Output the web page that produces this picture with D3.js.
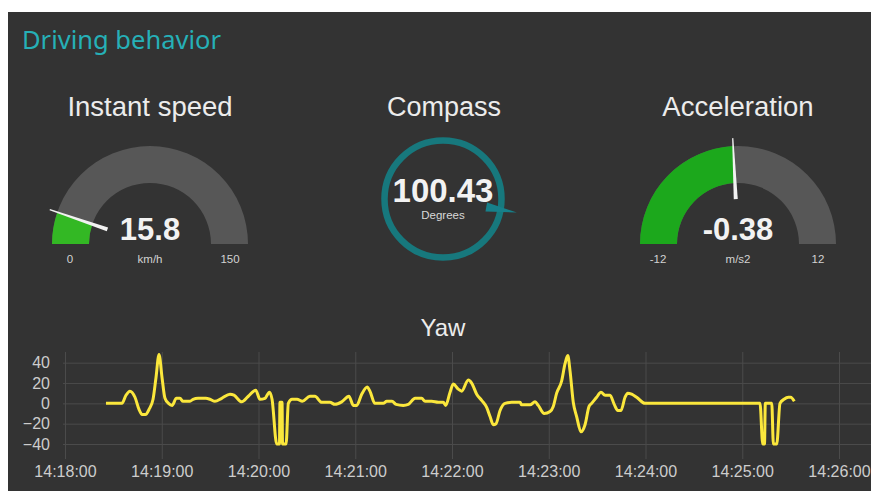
<!DOCTYPE html>
<html>
<head>
<meta charset="utf-8">
<script src="https://cdn.jsdelivr.net/npm/d3@7"></script>
<style>
  body { margin: 0; background: #fff; }
  text { font-family: "Liberation Sans", Arial, sans-serif; }
</style>
</head>
<body>
<script>
var width = 871, height = 491;

// gauge readings
var speedValue = 15.8, speedRange = [0, 150], speedUnit = "km/h";
var accelValue = -0.38, accelRange = [-12, 12], accelUnit = "m/s2";
var compassValue = 100.43, compassUnit = "Degrees";

// yaw samples, seconds after 14:18:00
var yawSeconds = [25.4, 35.3, 37.8, 40.3, 43.4, 45.9, 47.8, 49.9, 52.1, 54.6, 56.4, 58.3, 60.2, 62.0,
  64.2, 66.4, 69.1, 71.3, 73.2, 77.5, 79.4, 82.5, 87.4, 89.9, 93.0, 97.2, 102.3, 104.8, 109.6, 113.7,
  118.3, 120.9, 124.0, 126.8, 128.4, 131.3, 133.0, 133.3, 134.6, 134.9, 137.1, 138.5, 140.8, 143.9,
  147.2, 151.9, 155.0, 159.2, 164.3, 167.4, 171.6, 176.1, 178.8, 180.9, 184.0, 187.5, 189.1, 192.2,
  197.4, 199.5, 202.8, 205.3, 209.8, 212.9, 217.1, 221.2, 223.3, 227.4, 231.5, 234.6, 236.1, 238.8,
  240.8, 243.9, 246.0, 250.1, 252.2, 255.3, 258.4, 261.5, 263.6, 265.6, 267.3, 269.8, 272.9, 277.0,
  282.2, 283.2, 288.4, 291.5, 293.5, 297.2, 300.8, 302.8, 304.9, 308.0, 310.1, 311.8, 313.2, 315.2,
  317.3, 320.0, 322.5, 325.0, 326.6, 329.7, 332.4, 334.9, 338.0, 340.6, 342.8, 344.8, 347.3, 349.0,
  351.4, 354.5, 359.7, 431.0, 432.7, 433.8, 434.3, 438.3, 439.3, 441.4, 443.4, 445.9, 448.6, 450.0, 452.3];
var yawValues = [0, 0, 8, 12, 6, -6, -11, -11, -6, 4, 25, 48, 25, 5,
  0, -2, 5, 5, 2, 2, 4, 5, 5, 4, 2, 5, 9, 8, 1.5, 7,
  13, 4, 5, 11, 4, -40, -40, 1, 1, -40, -40, 0, 4, 4,
  2, 7, 7, 1, 1, -1, 1.5, 7, -2, -2, 9, 16, 12, 0,
  0, 2, 2, -1, -2, -1, 5, 5, 2, 2, 1, 1, -2, 11,
  19, 14, 12, 23, 20, 9, 3, -4, -13, -21, -20, -7, 0, 1,
  1, -1.5, -1.5, 1.5, -2, -10, -8, -3, 10, 22, 39, 47, 32, 1,
  -13, -28, -21, -3, 0, 6, 11, 8, 8, -1, -7, -7, 6, 10,
  9, 6, 0, 0, -40, -40, 0, 0, -40, -40, 0, 4, 6, 6, 2];
var yawTicks = [-40, -20, 0, 20, 40];
var timeTicks = ["14:18:00", "14:19:00", "14:20:00", "14:21:00", "14:22:00",
  "14:23:00", "14:24:00", "14:25:00", "14:26:00"];

var svg = d3.select("body")
  .append("svg")
    .attr("width", width)
    .attr("height", height);

// dark dashboard panel
svg.append("rect")
  .attr("x", 8).attr("y", 12)
  .attr("width", width - 8).attr("height", height - 12)
  .attr("fill", "#333333");

svg.append("text")
  .attr("x", 22).attr("y", 49)
  .text("Driving behavior")
  .style("font-family", "'Noto Sans', sans-serif")
  .attr("font-size", "25.5px")
  .attr("fill", "#26b0b7");

// half-circle gauge, justgage style
function drawGauge(cx, cy, title, value, range, unit, fillColor) {
  var angle = d3.scaleLinear().domain(range).range([-Math.PI / 2, Math.PI / 2]);
  var arc = d3.arc().innerRadius(61).outerRadius(98);
  var g = svg.append("g").attr("transform", "translate(" + cx + "," + cy + ")");

  g.append("path")
    .attr("d", arc({startAngle: -Math.PI / 2, endAngle: Math.PI / 2}))
    .attr("fill", "#575757");
  g.append("path")
    .attr("d", arc({startAngle: -Math.PI / 2, endAngle: angle(value)}))
    .attr("fill", fillColor);

  // tapered needle
  var a = angle(value), ux = Math.sin(a), uy = -Math.cos(a), px = Math.cos(a), py = Math.sin(a);
  var pts = [
    [ux * 106 + px * 0.6, uy * 106 + py * 0.6],
    [ux * 45 + px * 2, uy * 45 + py * 2],
    [ux * 45 - px * 2, uy * 45 - py * 2],
    [ux * 106 - px * 0.6, uy * 106 - py * 0.6]
  ];
  g.append("path")
    .attr("d", d3.line()(pts) + "Z")
    .attr("fill", "#f2f2f2");

  g.append("text")
    .attr("x", 0).attr("y", 116 - cy)
    .attr("text-anchor", "middle")
    .attr("font-size", "27.5px")
    .attr("fill", "#ececec")
    .text(title);
  g.append("text")
    .attr("x", 0).attr("y", -4)
    .attr("text-anchor", "middle")
    .attr("font-size", "31px")
    .attr("font-weight", "bold")
    .attr("fill", "#f2f2f2")
    .text(value);
  g.selectAll(".lbl")
    .data([[-80, range[0]], [0, unit], [80, range[1]]])
    .enter()
    .append("text")
      .attr("x", function(d) { return d[0]; })
      .attr("y", 19)
      .attr("text-anchor", "middle")
      .attr("font-size", "11.5px")
      .attr("fill", "#d2d2d2")
      .text(function(d) { return d[1]; });
}

drawGauge(150, 244, "Instant speed", speedValue, speedRange, speedUnit, "#33b824");
drawGauge(738, 244, "Acceleration", accelValue, accelRange, accelUnit, "#1ca81c");

// compass ring with heading wedge
var comp = svg.append("g").attr("transform", "translate(443,199)");
comp.append("circle")
  .attr("r", 58.5)
  .attr("fill", "none")
  .attr("stroke", "#17787d")
  .attr("stroke-width", 6.5);
var h = (compassValue - 90) * Math.PI / 180, hx = Math.cos(h), hy = Math.sin(h);
comp.append("path")
  .attr("d", d3.line()([
    [hx * 75, hy * 75],
    [hx * 44 - hy * 4.5, hy * 44 + hx * 4.5],
    [hx * 44 + hy * 4.5, hy * 44 - hx * 4.5]
  ]) + "Z")
  .attr("fill", "#17808a");
svg.append("text")
  .attr("x", 444).attr("y", 116)
  .attr("text-anchor", "middle")
  .attr("font-size", "27px")
  .attr("fill", "#ececec")
  .text("Compass");
comp.append("text")
  .attr("y", 3)
  .attr("text-anchor", "middle")
  .attr("font-size", "33px")
  .attr("font-weight", "bold")
  .attr("fill", "#f2f2f2")
  .text(compassValue);
comp.append("text")
  .attr("y", 20)
  .attr("text-anchor", "middle")
  .attr("font-size", "11.5px")
  .attr("fill", "#d8d8d8")
  .text(compassUnit);

// yaw line chart
var parseTime = d3.timeParse("%H:%M:%S");
var t0 = parseTime("14:18:00");
var x = d3.scaleTime()
  .domain([t0, parseTime("14:26:00")])
  .range([65, 839]);
var y = d3.scaleLinear()
  .domain([-40, 40])
  .range([444, 362.7]);

svg.append("text")
  .attr("x", 443).attr("y", 336)
  .attr("text-anchor", "middle")
  .attr("font-size", "24px")
  .attr("fill", "#ececec")
  .text("Yaw");

var yAxis = svg.append("g")
  .attr("transform", "translate(63,0)")
  .call(d3.axisLeft(y).tickValues(yawTicks).tickSize(-(width - 63)).tickPadding(13));
var xAxis = svg.append("g")
  .attr("transform", "translate(0,459)")
  .call(d3.axisBottom(x).tickValues(timeTicks.map(parseTime))
    .tickFormat(d3.timeFormat("%H:%M:%S")).tickSize(-107).tickPadding(7));

[yAxis, xAxis].forEach(function(ax) {
  ax.select(".domain").remove();
  ax.selectAll("line").attr("stroke", "#4b4b4b").attr("stroke-width", 1);
  ax.selectAll("text")
    .attr("fill", "#cdcdcd")
    .style("font-size", "16px")
    .style("font-family", "'Liberation Sans', Arial, sans-serif");
});

svg.append("clipPath").attr("id", "plot")
  .append("rect").attr("x", 63).attr("y", 350).attr("width", width - 63).attr("height", 96);

var line = d3.line()
  .x(function(d, i) { return x(new Date(t0.getTime() + yawSeconds[i] * 1000)); })
  .y(function(d) { return y(d); })
  .curve(d3.curveMonotoneX);

svg.append("path")
  .attr("clip-path", "url(#plot)")
  .attr("d", line(yawValues))
  .attr("fill", "none")
  .attr("stroke", "#fbe73c")
  .attr("stroke-width", 3)
  .attr("stroke-linejoin", "round");
</script>
</body>
</html>
